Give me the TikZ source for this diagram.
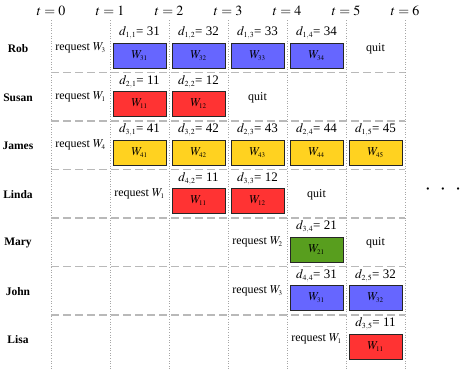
\documentclass[tikz,border=0pt]{standalone}
\usepackage{mathptmx}
\usepackage[no-math]{fontspec}
\setmainfont{Liberation Serif}
\usepackage{tikz}
\usetikzlibrary{positioning}

\definecolor{taskblue}{RGB}{102,102,255}
\definecolor{taskred}{RGB}{255,51,51}
\definecolor{taskyellow}{RGB}{255,210,32}
\definecolor{taskgreen}{RGB}{88,158,30}

\begin{document}
\begin{tikzpicture}[x=1pt,y=-1pt]
		\tikzset{taskbox/.style={draw=black!85,line width=0.8pt,minimum width=53pt,minimum height=25pt,inner sep=0pt,font=\fontsize{12}{14}\selectfont},
			dlabel/.style={font=\fontsize{13}{15}\selectfont,inner sep=0pt},
			tlabel/.style={font=\fontsize{14}{16}\selectfont,inner sep=0pt},
			reqlabel/.style={font=\fontsize{12}{14}\selectfont,inner sep=0pt},
			person/.style={font=\fontsize{11.5}{14}\selectfont\bfseries,inner sep=0pt}};
		\useasboundingbox (0,0) rectangle (462,370);
		% time grid
		\foreach \i in {0,...,6}{
			\draw[gray!70,dotted,line width=0.6pt] (51+59*\i,20)--(51+59*\i,370);
			\node[tlabel] (t\i) at (51+59*\i,11) {$t = \i$};
		}
		\foreach \r in {0,...,5}
			\draw[gray!55,line width=1.1pt,dash pattern=on 8pt off 4pt] (51,72.5+48.5*\r)--(405,72.5+48.5*\r);
		% people
		\foreach \name [count=\r from 0] in {Rob,Susan,James,Linda,Mary,John,Lisa}
			\node[person] (p\r) at (18,49+48.5*\r) {\name};
		% requests: row/column/work
		\foreach \r/\c/\w in {0/0/3,1/0/1,2/0/4,3/1/1,4/3/2,5/3/3,6/4/1}
			\node[reqlabel] (req\r) at (80.5+59*\c,48.25+48.5*\r) {request $W_{\scriptscriptstyle\w}$};
		% quits
		\foreach \r/\c in {0/5,1/3,3/4,4/5}
			\node[reqlabel] (quit\r) at (80.5+59*\c,49+48.5*\r) {quit};
		% tasks: row/column/colour/work/d-index/d-value
		\foreach \r/\c/\col/\w/\di/\dv in {0/1/taskblue/31/{1,1}/31,0/2/taskblue/32/{1,2}/32,0/3/taskblue/33/{1,3}/33,0/4/taskblue/34/{1,4}/34,
			1/1/taskred/11/{2,1}/11,1/2/taskred/12/{2,2}/12,
			2/1/taskyellow/41/{3,1}/41,2/2/taskyellow/42/{3,2}/42,2/3/taskyellow/43/{2,3}/43,2/4/taskyellow/44/{2,4}/44,2/5/taskyellow/45/{1,5}/45,
			3/2/taskred/11/{4,2}/11,3/3/taskred/12/{3,3}/12,
			4/4/taskgreen/21/{3,4}/21,
			5/4/taskblue/31/{4,4}/31,5/5/taskblue/32/{2,5}/32,
			6/5/taskred/11/{3,5}/11}{
			\node[taskbox,fill=\col] (w\r\c) at (80.5+59*\c,55.5+48.5*\r) {$W_{\scriptscriptstyle\w}$};
			\node[dlabel,above=3pt of w\r\c.north] (d\r\c) {$d_{\scriptscriptstyle\di}$= \dv};
		}
		\node[font=\fontsize{22}{22}\selectfont,inner sep=0pt] (dots) at (443,190) {$\cdot\hspace{6pt}\cdot\hspace{6pt}\cdot$};
	\end{tikzpicture}
\end{document}
